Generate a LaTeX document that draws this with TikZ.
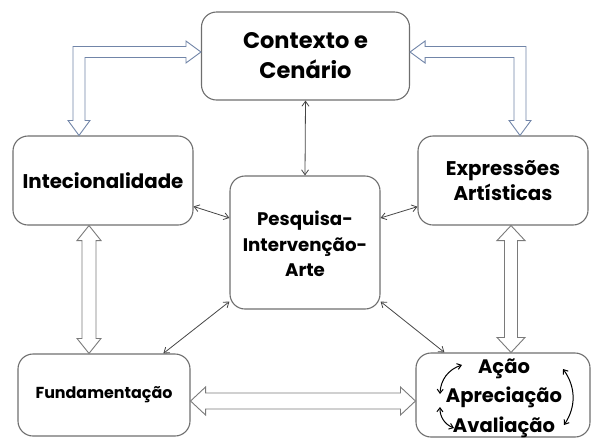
\documentclass[tikz,border=0pt]{standalone}
\usepackage{fontspec}
\setmainfont{Poppins}
\usetikzlibrary{arrows.meta,calc}

\definecolor{boxgray}{HTML}{6E6E6E}
\definecolor{setagray}{HTML}{454545}
\definecolor{ocagray}{HTML}{7A7A7A}
\definecolor{ocablue}{HTML}{7185A8}

\tikzset{
  caixa/.style={draw=boxgray, line width=1.1pt, rounded corners=15pt, align=center, inner sep=0pt},
  seta/.style={draw=setagray, line width=0.8pt, {Straight Barb[length=5pt,width=7pt]}-{Straight Barb[length=5pt,width=7pt]}},
  oca/.style={draw=ocagray, line width=0.9pt, fill=white, line join=miter},
  ocaazul/.style={oca, draw=ocablue},
  giro/.style={draw=black, line width=1pt, {Straight Barb[length=4pt,width=6pt]}-{Straight Barb[length=4pt,width=6pt]}},
}

\begin{document}
\begin{tikzpicture}[x=1pt,y=-1pt]
  \useasboundingbox (0,0) rectangle (594,440);
  % caixas
  \node[caixa, minimum width=208pt, minimum height=88pt, font=\bfseries\fontsize{22.5}{30}\selectfont] (ctx) at (305.5,56) {Contexto e\\Cenário};
  \node[caixa, minimum width=180pt, minimum height=89pt, font=\bfseries\fontsize{19.8}{25}\selectfont] (inte) at (103,180.5) {Intecionalidade};
  \node[caixa, minimum width=150pt, minimum height=133pt, font=\bfseries\fontsize{18.2}{25.5}\selectfont] (pia) at (305,242.5) {\strut Pesquisa-\\Intervenção-\\Arte};
  \node[caixa, minimum width=170pt, minimum height=89pt, font=\bfseries\fontsize{19.8}{25.5}\selectfont] (expr) at (503,180.5) {Expressões\\Artísticas};
  \node[caixa, minimum width=172pt, minimum height=82pt, font=\bfseries\fontsize{15.9}{20}\selectfont] (fund) at (104,395) {Fundamentação};
  \node[caixa, minimum width=174pt, minimum height=84pt] (acao) at (503,395) {};
  \node[align=center, inner sep=0pt, font=\bfseries\fontsize{19.5}{29.5}\selectfont] (ciclo) at (504,398) {Ação\\Apreciação\\Avaliação};

  % setas finas
  \draw[seta] (ctx.south) -- (pia.north);
  \draw[seta] (inte.-16) -- (pia.162);
  \draw[seta] (pia.18) -- (expr.197);
  \draw[seta] (fund.35) -- (pia.218);
  \draw[seta] (pia.-38) -- (acao.144);

  % setas ocas
  \coordinate (cA) at ($(ctx.west)+(0,-4)$);
  \coordinate (iA) at ($(inte.north)+(-24,0)$);
  \coordinate (kA) at (cA -| iA);
  \draw[ocaazul] (cA) -- ++(-15,-11) -- ++(0,5.5) -- ($(kA)+(-6,-5.5)$) -- ($(iA)+(-6,-15)$) -- ++(-5,0) -- (iA)
    -- ++(11,-15) -- ++(-5,0) -- ($(kA)+(6,5.5)$) -- ($(cA)+(-15,5.5)$) -- ++(0,5.5) -- cycle;
  \coordinate (cB) at ($(ctx.east)+(0,-4)$);
  \coordinate (eB) at ($(expr.north)+(17,0)$);
  \coordinate (kB) at (cB -| eB);
  \draw[ocaazul] (cB) -- ++(15,-11) -- ++(0,5.5) -- ($(kB)+(6,-5.5)$) -- ($(eB)+(6,-15)$) -- ++(5,0) -- (eB)
    -- ++(-11,-15) -- ++(5,0) -- ($(kB)+(-6,5.5)$) -- ($(cB)+(15,5.5)$) -- ++(0,5.5) -- cycle;

  \coordinate (iF) at ($(inte.south)+(-14,0)$);
  \coordinate (fI) at ($(fund.north)+(-15,0)$);
  \draw[oca] (iF) -- ++(12,15) -- ++(-5,0) -- ($(fI)+(7,-15)$) -- ++(5,0) -- (fI)
    -- ++(-12,-15) -- ++(5,0) -- ($(iF)+(-7,15)$) -- ++(-5,0) -- cycle;
  \coordinate (eA) at ($(expr.south)+(8,0)$);
  \coordinate (aE) at ($(acao.north)+(8,0)$);
  \draw[oca] (eA) -- ++(14,15) -- ++(-7.5,0) -- ($(aE)+(6.5,-15)$) -- ++(7.5,0) -- (aE)
    -- ++(-14,-15) -- ++(7.5,0) -- ($(eA)+(-6.5,15)$) -- ++(-7.5,0) -- cycle;
  \coordinate (fA) at ($(fund.east)+(0,6)$);
  \coordinate (aF) at ($(acao.west)+(0,6)$);
  \draw[oca] (fA) -- ++(15,-14) -- ++(0,6) -- ($(aF)+(-15,-8)$) -- ++(0,-6) -- (aF)
    -- ++(-15,14) -- ++(0,-6) -- ($(fA)+(15,8)$) -- ++(0,6) -- cycle;

  % ciclo
  \coordinate (g1) at (462,365);
  \coordinate (g2) at (440,394);
  \coordinate (g3) at (440,407);
  \coordinate (g4) at (454,428);
  \coordinate (g5) at (563,369);
  \coordinate (g6) at (564,425);
  \draw[giro] (g1) to[bend right=35] (g2);
  \draw[giro] (g3) to[bend right=35] (g4);
  \draw[giro] (g5) to[bend left=35] (g6);
\end{tikzpicture}
\end{document}
